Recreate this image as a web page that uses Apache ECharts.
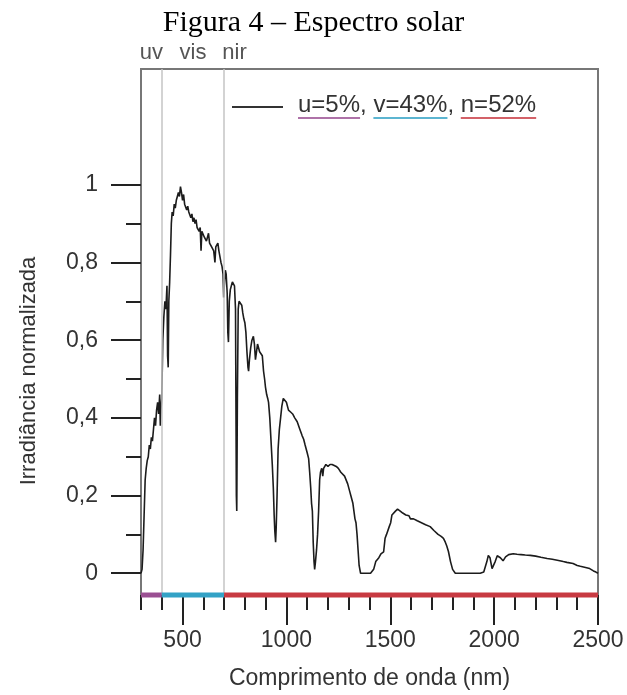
<!DOCTYPE html>
<html>
<head>
<meta charset="utf-8">
<script src="https://cdn.jsdelivr.net/npm/echarts@6/dist/echarts.min.js"></script>
<style>
  html, body { margin: 0; padding: 0; background: #fff; }
  #chart { width: 627px; height: 695px; }
</style>
</head>
<body>
<div id="chart"></div>
<script>
// Normalised solar irradiance against wavelength (nm)
const wavelengths = [
  300, 305, 310, 315, 320, 325, 330, 335, 340, 345, 350, 355, 360, 365, 370, 375, 380, 385, 390, 393,
  396, 400, 405, 410, 415, 420, 425, 428, 431, 434, 438, 442, 446, 450, 455, 460, 465, 470, 475, 480,
  485, 490, 495, 500, 505, 510, 515, 520, 525, 530, 535, 540, 545, 550, 555, 560, 565, 570, 575, 580,
  585, 589, 593, 600, 605, 610, 615, 620, 625, 630, 635, 640, 645, 650, 656, 660, 665, 670, 675, 680,
  685, 690, 695, 698, 702, 706, 710, 715, 718, 721, 725, 730, 735, 740, 745, 750, 755, 759, 761, 764,
  768, 772, 779, 785, 790, 795, 800, 805, 810, 815, 818, 822, 828, 834, 841, 846, 851, 856, 861, 866,
  871, 876, 884, 890, 895, 899, 905, 910, 914, 920, 926, 932, 937, 941, 944, 948, 951, 955, 960, 966,
  972, 978, 985, 990, 994, 1000, 1010, 1020, 1030, 1040, 1052, 1065, 1075, 1083, 1090, 1100, 1107, 1112, 1117, 1121,
  1125, 1129, 1133, 1136, 1140, 1145, 1150, 1155, 1160, 1164, 1170, 1175, 1179, 1190, 1200, 1210, 1220, 1228, 1240, 1250,
  1262, 1270, 1280, 1285, 1295, 1305, 1310, 1320, 1330, 1335, 1340, 1345, 1350, 1357, 1380, 1405, 1420, 1430, 1445, 1455,
  1468, 1475, 1482, 1490, 1495, 1502, 1508, 1515, 1525, 1535, 1548, 1560, 1575, 1590, 1597, 1612, 1630, 1650, 1670, 1692,
  1710, 1730, 1745, 1756, 1765, 1772, 1780, 1790, 1800, 1813, 1850, 1900, 1933, 1950, 1957, 1965, 1972, 1980, 1990, 1995,
  2005, 2015, 2020, 2030, 2043, 2055, 2070, 2092, 2110, 2130, 2150, 2174, 2200, 2225, 2255, 2280, 2310, 2333, 2350, 2380,
  2400, 2415, 2440, 2460, 2478, 2490, 2500
];
const irradiance = [
  0.0, 0.01, 0.06, 0.15, 0.24, 0.27, 0.29, 0.30, 0.33, 0.32, 0.35, 0.34, 0.37, 0.40, 0.38, 0.42, 0.44, 0.41, 0.46, 0.38,
  0.42, 0.45, 0.60, 0.66, 0.70, 0.68, 0.74, 0.56, 0.53, 0.70, 0.75, 0.82, 0.90, 0.93, 0.92, 0.95, 0.94, 0.96, 0.97, 0.98,
  0.97, 0.995, 0.98, 0.96, 0.975, 0.95, 0.955, 0.935, 0.945, 0.93, 0.935, 0.915, 0.925, 0.905, 0.915, 0.90, 0.91, 0.89, 0.895, 0.88,
  0.89, 0.83, 0.88, 0.875, 0.865, 0.87, 0.855, 0.86, 0.875, 0.85, 0.85, 0.84, 0.845, 0.83, 0.80, 0.84, 0.845, 0.85, 0.83, 0.825,
  0.80, 0.79, 0.77, 0.71, 0.75, 0.78, 0.77, 0.72, 0.62, 0.595, 0.70, 0.73, 0.74, 0.75, 0.75, 0.74, 0.68, 0.20, 0.16, 0.45,
  0.68, 0.70, 0.705, 0.69, 0.67, 0.655, 0.645, 0.62, 0.57, 0.53, 0.52, 0.55, 0.58, 0.60, 0.61, 0.59, 0.55, 0.57, 0.59, 0.585,
  0.57, 0.575, 0.56, 0.52, 0.50, 0.48, 0.46, 0.45, 0.44, 0.40, 0.34, 0.28, 0.22, 0.15, 0.11, 0.08, 0.12, 0.20, 0.32, 0.37,
  0.40, 0.43, 0.45, 0.455, 0.45, 0.44, 0.42, 0.415, 0.41, 0.40, 0.39, 0.37, 0.355, 0.345, 0.33, 0.31, 0.295, 0.26, 0.22, 0.18,
  0.16, 0.08, 0.03, 0.01, 0.03, 0.06, 0.10, 0.16, 0.24, 0.26, 0.27, 0.25, 0.27, 0.28, 0.275, 0.28, 0.28, 0.275, 0.275, 0.27,
  0.26, 0.255, 0.25, 0.245, 0.23, 0.21, 0.20, 0.18, 0.14, 0.13, 0.10, 0.06, 0.02, 0.0, 0.0, 0.0, 0.01, 0.03, 0.04, 0.05,
  0.055, 0.09, 0.10, 0.10, 0.12, 0.13, 0.15, 0.155, 0.16, 0.165, 0.16, 0.155, 0.15, 0.148, 0.14, 0.14, 0.135, 0.13, 0.125, 0.12,
  0.11, 0.10, 0.095, 0.09, 0.08, 0.07, 0.056, 0.03, 0.01, 0.0, 0.0, 0.0, 0.0, 0.003, 0.006, 0.03, 0.046, 0.04, 0.012, 0.01,
  0.03, 0.045, 0.046, 0.04, 0.032, 0.042, 0.048, 0.05, 0.049, 0.048, 0.047, 0.046, 0.044, 0.041, 0.038, 0.036, 0.033, 0.030, 0.028, 0.025,
  0.020, 0.018, 0.015, 0.012, 0.006, 0.003, 0.0
];

// Spectral bands along the wavelength axis
const bandEdges = [300, 400, 700, 2500];
const bandNames = ['uv', 'vis', 'nir'];
const bandLabelAt = [350, 550, 750];
const bandColors = ['#9a4f92', '#33a2c6', '#c83a42'];
const bandShares = ['u=5%,', 'v=43%,', 'n=52%'];

// Axis ticks
const xLabelValues = [500, 1000, 1500, 2000, 2500];
const yLabelValues = [0, 0.2, 0.4, 0.6, 0.8, 1];
const yMinorValues = [0.1, 0.3, 0.5, 0.7, 0.9];

const X_MIN = 300, X_MAX = 2500;
const Y_MIN = -0.056, Y_MAX = 1.298;

const chart = echarts.init(document.getElementById('chart'), null, { renderer: 'canvas' });

const sans = '"Liberation Sans", Arial, sans-serif';
const tickColor = '#222';
const labelColor = '#333';

const spectrum = wavelengths.map((w, i) => [w, irradiance[i]]);

// Coloured strip along the bottom edge, one segment per band
const bandSeries = bandNames.map((name, i) => ({
  type: 'line',
  name: 'band-' + name,
  silent: true,
  clip: false,
  symbol: 'none',
  z: 5,
  lineStyle: { color: bandColors[i], width: 5, cap: 'butt' },
  data: [[bandEdges[i], Y_MIN], [bandEdges[i + 1], Y_MIN]]
}));

// Legend: a line sample followed by the band shares, each underlined in its band colour
const measureCtx = document.createElement('canvas').getContext('2d');
const legendFont = '24px ' + sans;
measureCtx.font = legendFont;
const legendLeft = 298;
const legendTextY = 105;
const legendGraphics = [
  { type: 'line', shape: { x1: 232, y1: 107, x2: 283, y2: 107 },
    style: { stroke: '#333', lineWidth: 2 } }
];
let cursor = legendLeft;
bandShares.forEach((txt, i) => {
  const w = measureCtx.measureText(txt.replace(',', '')).width;
  legendGraphics.push({
    type: 'text', x: cursor, y: legendTextY, z: 10,
    style: { text: txt, font: legendFont, fill: labelColor, verticalAlign: 'middle' }
  });
  legendGraphics.push({
    type: 'rect', shape: { x: cursor, y: 117, width: w, height: 2 },
    style: { fill: bandColors[i], opacity: 0.8 }
  });
  cursor += measureCtx.measureText(txt + ' ').width;
});

const option = {
  animation: false,
  backgroundColor: '#ffffff',
  title: {
    text: 'Figura 4 – Espectro solar',
    left: 'center',
    top: 8,
    padding: 0,
    textStyle: {
      fontFamily: '"Liberation Serif", "Times New Roman", serif',
      fontSize: 30, lineHeight: 30, fontWeight: 'normal', color: '#000'
    }
  },
  grid: {
    left: 141, right: 29, top: 69, bottom: 98,
    show: true, borderColor: '#777', borderWidth: 2, backgroundColor: 'transparent'
  },
  xAxis: [
    {
      type: 'value', min: X_MIN, max: X_MAX, interval: 100,
      axisLine: { show: false, onZero: false },
      axisTick: { show: true, length: 15, lineStyle: { color: tickColor, width: 2 } },
      axisLabel: { show: false },
      splitLine: { show: false }
    },
    {
      type: 'value', min: X_MIN, max: X_MAX, position: 'bottom',
      axisLine: { show: false, onZero: false },
      axisTick: { show: true, length: 30, customValues: xLabelValues, lineStyle: { color: tickColor, width: 2 } },
      axisLabel: {
        show: true, customValues: xLabelValues, margin: 34, fontSize: 23, fontFamily: sans, color: labelColor,
        formatter: v => String(v)
      },
      splitLine: { show: false },
      name: 'Comprimento de onda (nm)',
      nameLocation: 'middle',
      nameGap: 72,
      nameTextStyle: { fontSize: 23, fontFamily: sans, color: labelColor }
    }
  ],
  yAxis: [
    {
      type: 'value', min: Y_MIN, max: Y_MAX,
      axisLine: { show: false, onZero: false },
      axisTick: { show: true, length: 15, customValues: yMinorValues, lineStyle: { color: tickColor, width: 2 } },
      axisLabel: { show: false },
      splitLine: { show: false }
    },
    {
      type: 'value', min: Y_MIN, max: Y_MAX, position: 'left',
      axisLine: { show: false, onZero: false },
      axisTick: { show: true, length: 30, customValues: yLabelValues, lineStyle: { color: tickColor, width: 2 } },
      axisLabel: {
        show: true, customValues: yLabelValues, margin: 43, fontSize: 23, fontFamily: sans, color: labelColor,
        formatter: v => String(v).replace('.', ',')
      },
      splitLine: { show: false }
    }
  ],
  graphic: [
    {
      type: 'text', x: 29, y: 371, rotation: Math.PI / 2,
      style: {
        text: 'Irradiância normalizada', font: '22px ' + sans, fill: labelColor,
        align: 'center', verticalAlign: 'middle'
      }
    },
    ...legendGraphics
  ],
  series: [
    {
      type: 'line',
      name: 'espectro',
      data: spectrum,
      xAxisIndex: 0,
      yAxisIndex: 0,
      showSymbol: false,
      symbol: 'none',
      z: 3,
      lineStyle: { color: '#1c1c1c', width: 1.6 },
      markLine: {
        silent: true,
        symbol: 'none',
        label: { show: false },
        lineStyle: { color: '#c4c4c4', width: 1.5, type: 'solid' },
        data: [{ xAxis: bandEdges[1] }, { xAxis: bandEdges[2] }]
      }
    },
    ...bandSeries
  ]
};

chart.setOption(option);

// Band names above the frame, centred on their wavelengths
const bandLabelGraphics = bandNames.map((name, i) => ({
  type: 'text',
  x: chart.convertToPixel({ xAxisIndex: 0 }, bandLabelAt[i]),
  y: 53,
  style: { text: name, font: '22px ' + sans, fill: '#555', align: 'center', verticalAlign: 'middle' }
}));
chart.setOption({ graphic: option.graphic.concat(bandLabelGraphics) });
</script>
</body>
</html>
